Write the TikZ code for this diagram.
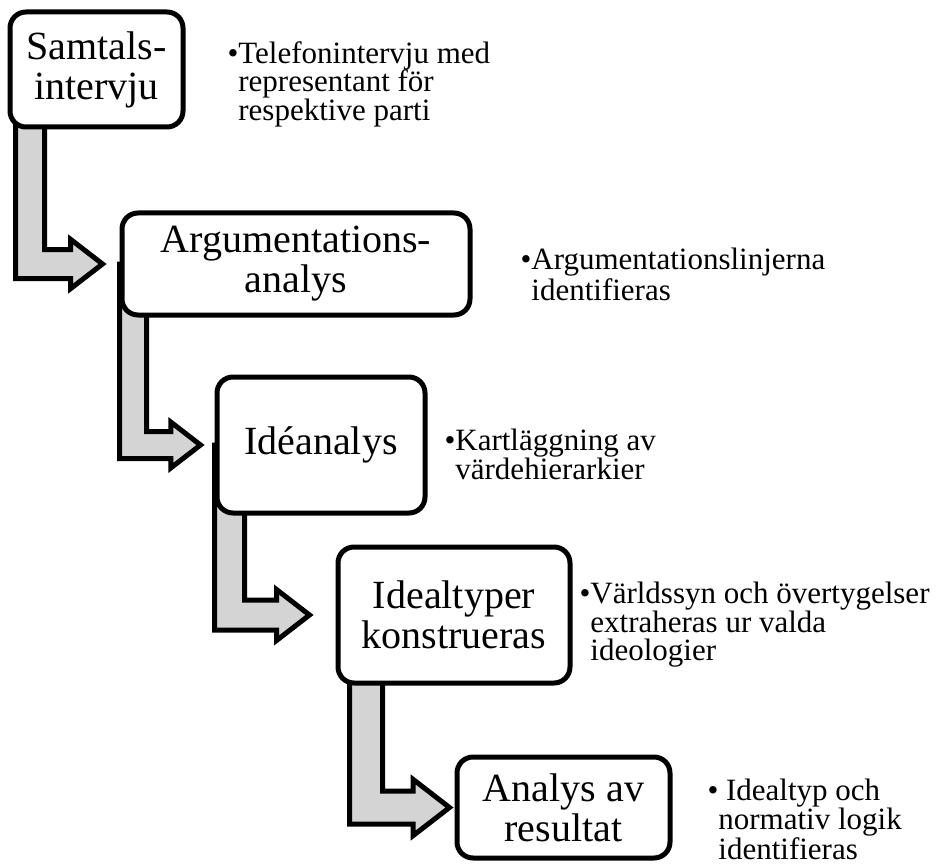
\documentclass[tikz,border=0pt]{standalone}
\usepackage{fontspec}
\setmainfont{Liberation Serif}
\usetikzlibrary{calc, backgrounds}

\definecolor{arrowgray}{RGB}{212,212,212}

\tikzset{
  stepbox/.style={draw, line width=2.5pt, rounded corners=8pt, fill=white,
    align=center, inner sep=0pt, font=\fontsize{20}{20}\selectfont},
  note/.style={anchor=north west, align=left, inner sep=0pt,
    font=\fontsize{15.5}{14.25}\selectfont},
  bendarrow/.style={draw, line width=2.5pt, fill=arrowgray, line join=miter}
}

% #1 from box, #2 to box, #3 shift of shaft, #4 shaft width, #5 gap before box
\newcommand{\bendarrow}[5]{%
  \coordinate (tl) at ($(#1.west)+(#3,0)$);
  \coordinate (tip) at ($(#2.west)+(-#5,0)$);
  \draw[bendarrow] (tl)
    -- ($(tl |- tip)+(0,#4/2)$)
    -- ($(tip)+(-1.1*#4,#4/2)$)
    -- ($(tip)+(-1.1*#4,0.85*#4)$)
    -- (tip)
    -- ($(tip)+(-1.1*#4,-0.85*#4)$)
    -- ($(tip)+(-1.1*#4,-#4/2)$)
    -- ($(tl |- tip)+(#4,-#4/2)$)
    -- ($(tl)+(#4,0)$) -- cycle;}

\begin{document}
\begin{tikzpicture}[x=0.5pt, y=-0.5pt]
\useasboundingbox (0,0) rectangle (936,866);
%steps
\node[stepbox, minimum width=86.5pt, minimum height=57.5pt] (samtal) at (96.5,69.5) {Samtals-\\intervju};
\node[stepbox, minimum width=174pt, minimum height=51pt] (argument) at (296,264) {Argumentations-\\analys};
\node[stepbox, minimum width=104pt, minimum height=68pt] (idea) at (321,445) {Idéanalys};
\node[stepbox, minimum width=116pt, minimum height=68pt] (idealtyp) at (454,615) {Idealtyper\\konstrueras};
\node[stepbox, minimum width=106.5pt, minimum height=50.5pt] (resultat) at (563.5,807.5) {Analys av\\resultat};
%notes
\node[note] (n1) at (238,41) {\llap{•}Telefonintervju med\\representant för\\respektive parti};
\node[note] (n2) at (531,248) {\llap{•}Argumentationslinjerna\\identifieras};
\node[note] (n3) at (455,429) {\llap{•}Kartläggning av\\värdehierarkier};
\node[note] (n4) at (590,582) {\llap{•}Världssyn och övertygelser\\extraheras ur valda\\ideologier};
\node[note] (n5) at (718,779) {\llap{•}\ Idealtyp och\\normativ logik\\identifieras};
%arrows
\begin{scope}[on background layer]
\bendarrow{samtal}{argument}{8}{29}{17}
\bendarrow{argument}{idea}{0}{27}{14}
\bendarrow{idea}{idealtyp}{0}{30}{26}
\bendarrow{idealtyp}{resultat}{14}{33}{5}
\end{scope}
\end{tikzpicture}
\end{document}
